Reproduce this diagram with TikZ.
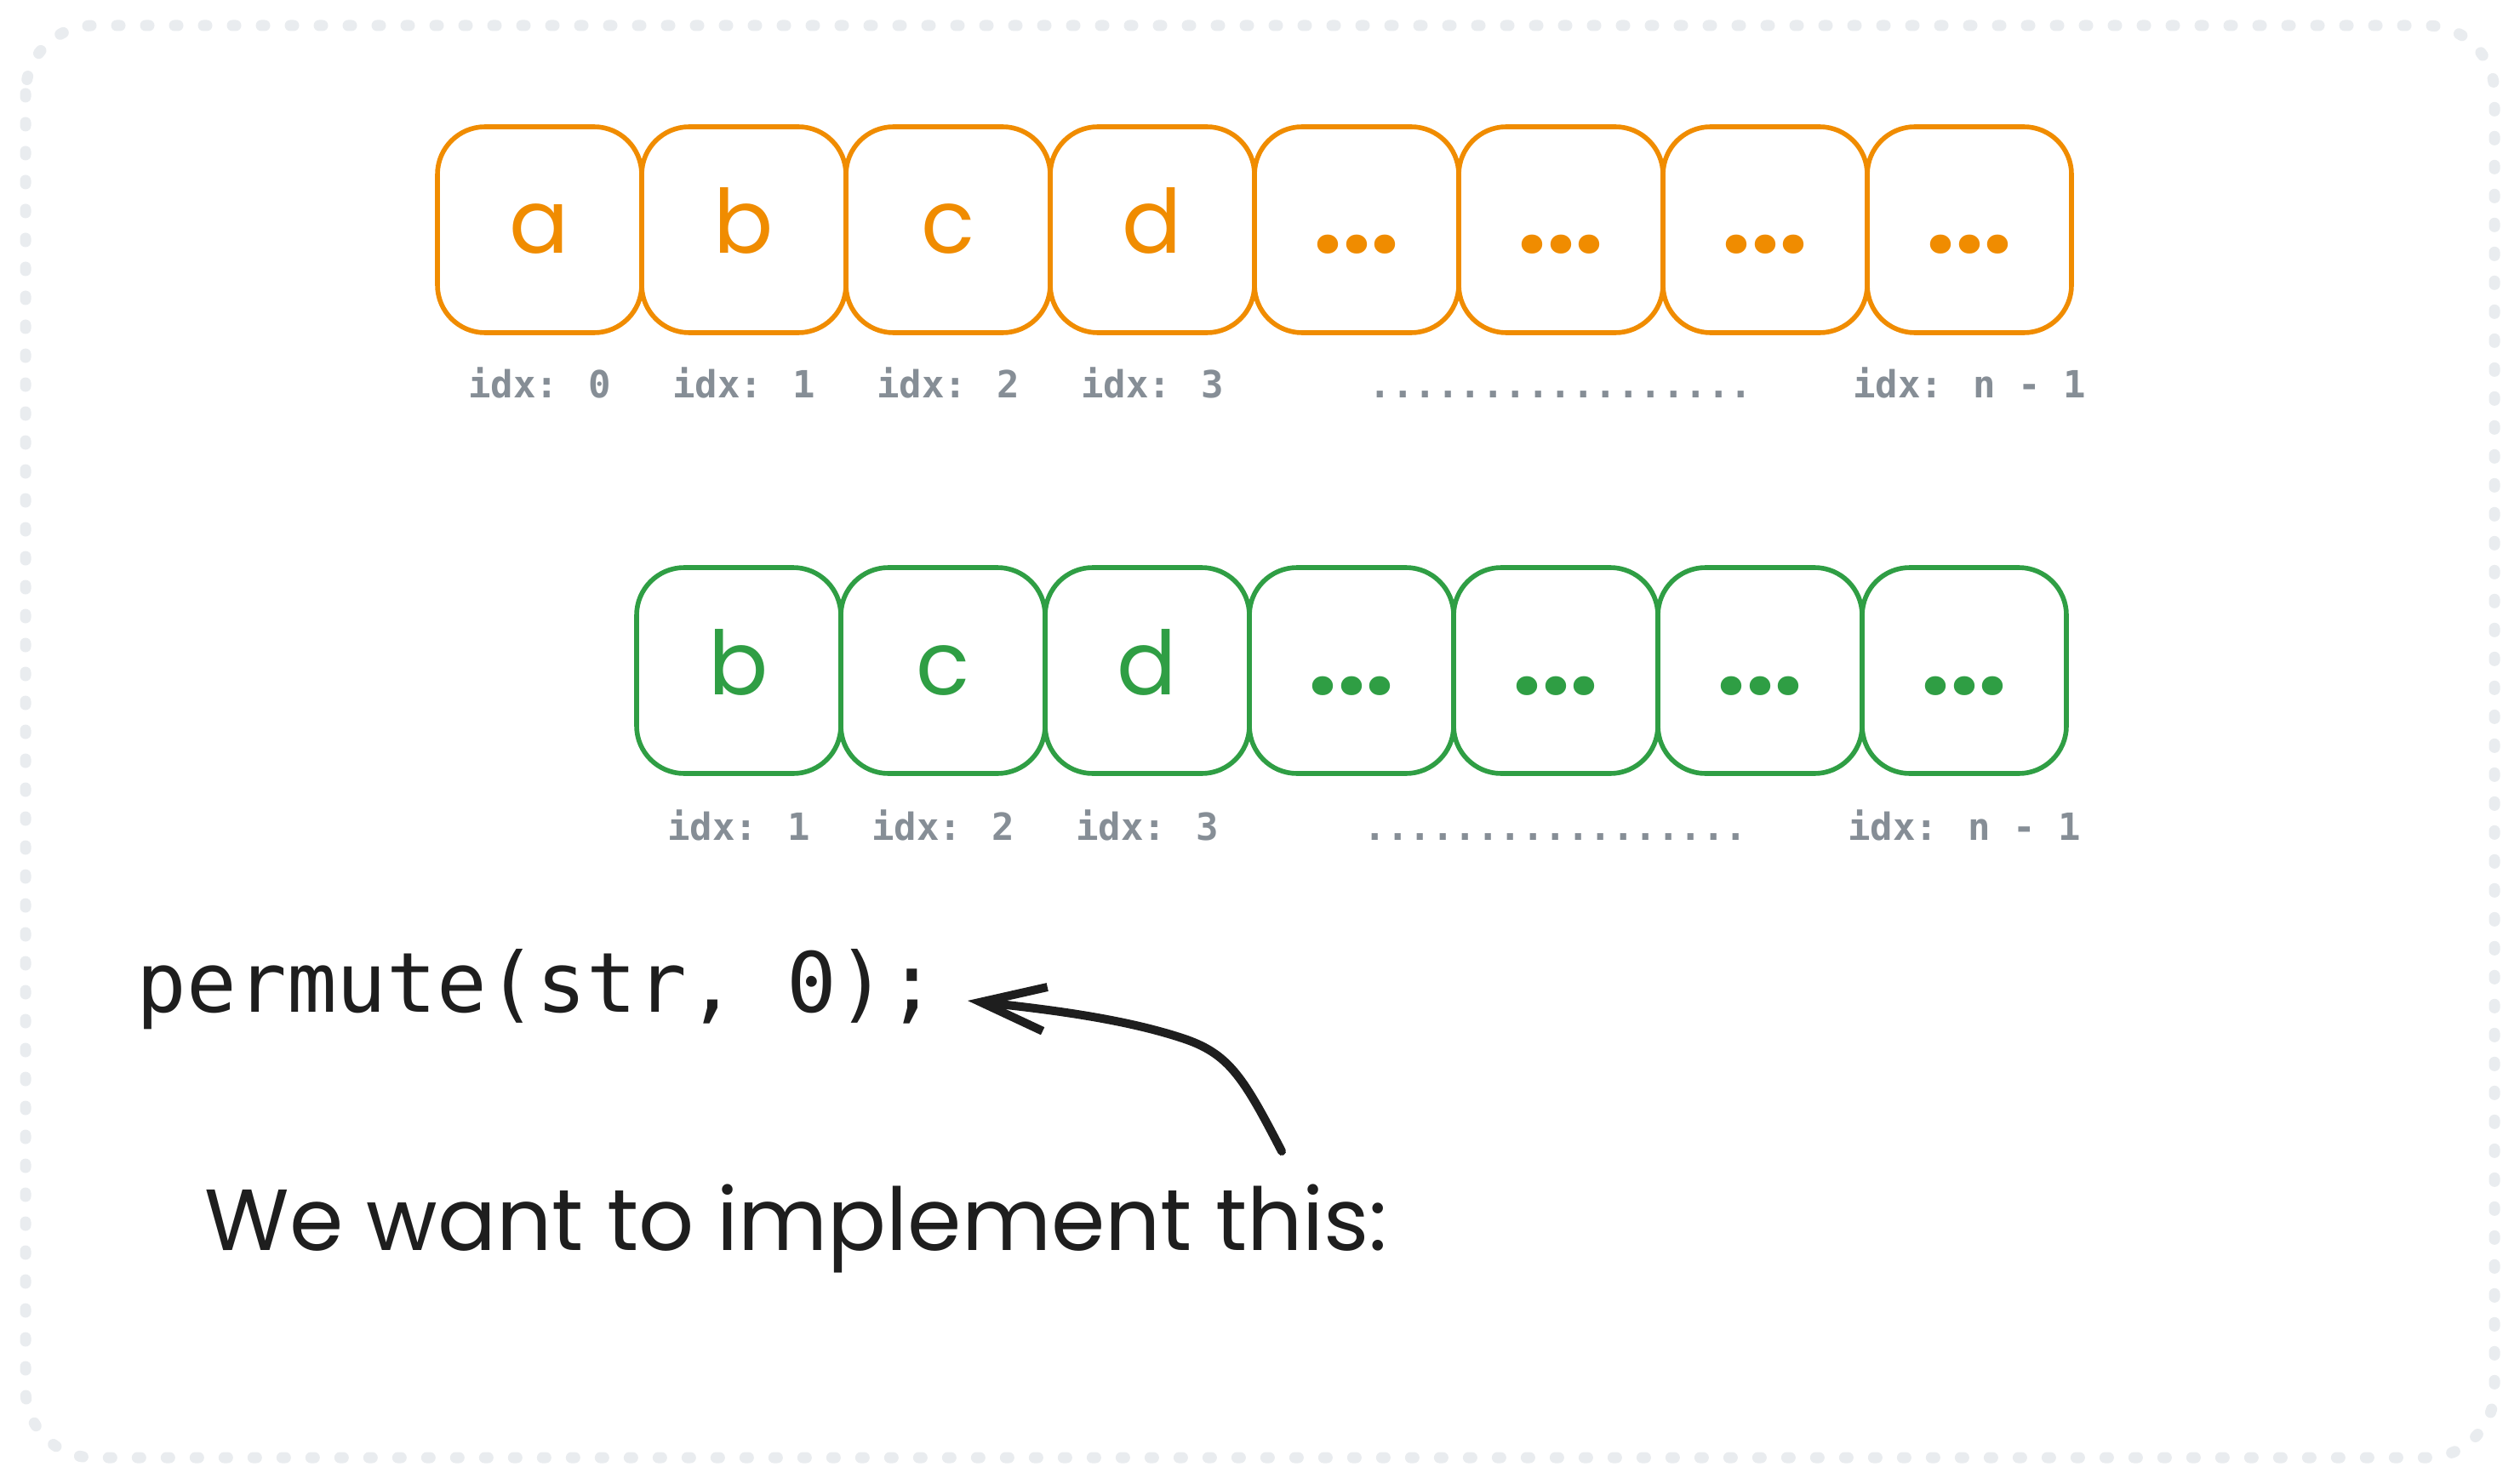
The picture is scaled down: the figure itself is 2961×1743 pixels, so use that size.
\documentclass[tikz,border=0pt]{standalone}
\usepackage{fontspec}
\setmainfont{Poppins}
\newfontfamily\codefont{DejaVu Sans Mono}
\usetikzlibrary{arrows.meta}
\definecolor{exorange}{HTML}{F08C00}
\definecolor{exgreen}{HTML}{2F9E44}
\definecolor{exgray}{HTML}{868E96}
\definecolor{exblack}{HTML}{1E1E1E}
\definecolor{exborder}{HTML}{E9ECEF}
\newcommand\celldots{{\bfseries\fontsize{30}{30}\selectfont ...}}
\tikzset{
  cellbox/.style={draw, rounded corners=14pt, line width=1.4pt, minimum width=60pt, minimum height=60.5pt,
    inner sep=0pt, text height=14pt, text depth=0pt, font=\fontsize{26}{26}\selectfont},
  orangecell/.style={cellbox, draw=exorange, text=exorange},
  greencell/.style={cellbox, draw=exgreen, text=exgreen},
  idxlabel/.style={anchor=base, text=exgray, font=\codefont\bfseries\fontsize{11}{11}\selectfont, inner sep=0pt},
  codetext/.style={anchor=base west, inner sep=0pt, text=exblack, font=\codefont\fontsize{24.4}{24.4}\selectfont},
  handtext/.style={anchor=base west, inner sep=0pt, text=exblack, font=\fontsize{25.5}{25.5}\selectfont},
  outerframe/.style={draw=exborder, line width=3.25pt, dash pattern=on 1pt off 7.5pt, line cap=round, rounded corners=20pt},
  pointer/.style={draw=exblack, line width=2.5pt, line cap=round, line join=round, -{Straight Barb[length=19pt,width=13pt]}}
}
\begin{document}
\begin{tikzpicture}[x=0.25pt,y=-0.25pt]
\useasboundingbox[fill=white] (0,0) rectangle (2961,1743);
\draw[outerframe] (30,30) rectangle (2931,1713);
% top row
\node[orangecell] (t0) at (634,270) {a};
\node[orangecell] (t1) at (874,270) {b};
\node[orangecell] (t2) at (1114,270) {c};
\node[orangecell] (t3) at (1354,270) {d};
\node[orangecell] (t4) at (1594,270) {\celldots};
\node[orangecell] (t5) at (1834,270) {\celldots};
\node[orangecell] (t6) at (2074,270) {\celldots};
\node[orangecell] (t7) at (2314,270) {\celldots};
\node[idxlabel] (l0) at (634,468) {idx: 0};
\node[idxlabel] (l1) at (874,468) {idx: 1};
\node[idxlabel] (l2) at (1114,468) {idx: 2};
\node[idxlabel] (l3) at (1354,468) {idx: 3};
\node[idxlabel] (ld) at (1834,468) {.................};
\node[idxlabel] (l7) at (2314,468) {idx: n - 1};
% bottom row
\node[greencell] (b0) at (868,788) {b};
\node[greencell] (b1) at (1108,788) {c};
\node[greencell] (b2) at (1348,788) {d};
\node[greencell] (b3) at (1588,788) {\celldots};
\node[greencell] (b4) at (1828,788) {\celldots};
\node[greencell] (b5) at (2068,788) {\celldots};
\node[greencell] (b6) at (2308,788) {\celldots};
\node[idxlabel] (m0) at (868,987) {idx: 1};
\node[idxlabel] (m1) at (1108,987) {idx: 2};
\node[idxlabel] (m2) at (1348,987) {idx: 3};
\node[idxlabel] (md) at (1828,987) {.................};
\node[idxlabel] (m6) at (2308,987) {idx: n - 1};
% texts
\node[codetext] (permute) at (160,1189) {permute(str, 0);};
\node[handtext] (want) at (240,1469) {We want to implement this:};
\coordinate (arrowstart) at (1506,1353);
\coordinate (arrowtip) at (1137,1176);
\draw[pointer] (arrowstart) .. controls (1462,1268) and (1445,1240) .. (1395,1222)
  .. controls (1320,1196) and (1220,1185) .. (arrowtip);
\end{tikzpicture}
\end{document}
